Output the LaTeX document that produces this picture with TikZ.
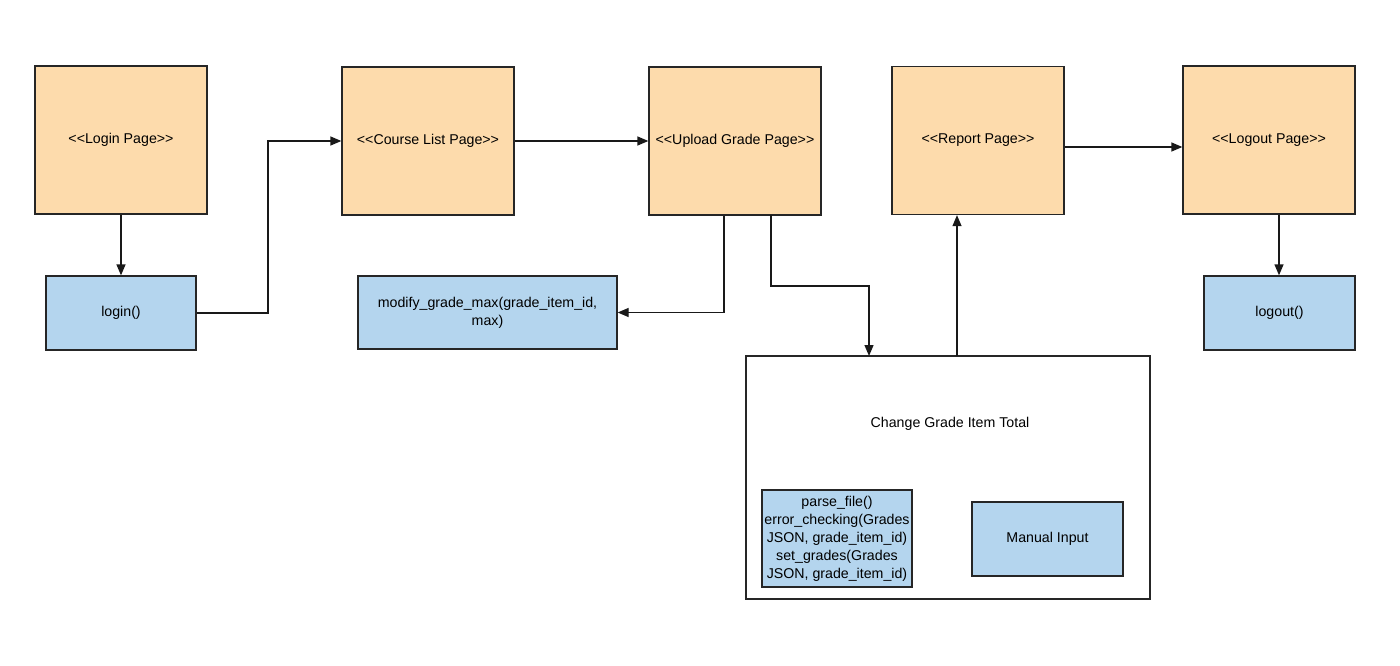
\documentclass[tikz,border=0pt]{standalone}
\usepackage{fontspec}
\setmainfont{Liberation Sans}
\usetikzlibrary{arrows.meta}
\definecolor{pageorange}{HTML}{FDDBAC}
\definecolor{funcblue}{HTML}{B4D5EE}
\newcommand{\dlt}{<\kern0pt<}
\newcommand{\dgt}{>\kern0pt>}
\begin{document}
\begin{tikzpicture}[x=1pt,y=-1pt,
  font=\fontsize{14.2}{18}\selectfont,
  pagebox/.style={draw=black!85, line width=1.3pt, fill=pageorange, minimum width=172pt, minimum height=148pt, inner sep=0pt, align=center},
  funcbox/.style={draw=black!85, line width=1.3pt, fill=funcblue, inner sep=0pt, align=center},
  conn/.style={draw=black!90, line width=1.3pt, -{Triangle[length=11pt,width=9pt]}}
]
\useasboundingbox (0,0) rectangle (1400,666);
% pages
\node[pagebox] (login) at (121,140) {\dlt Login Page\dgt};
\node[pagebox] (course) at (428,141) {\dlt Course List Page\dgt};
\node[pagebox] (upload) at (735,141) {\dlt Upload Grade Page\dgt};
\node[pagebox] (report) at (978,140.5) {\dlt Report Page\dgt};
\node[pagebox] (logout) at (1269,140) {\dlt Logout Page\dgt};
% functions
\node[funcbox, minimum width=150pt, minimum height=74pt] (loginf) at (121,313) {login()};
\node[funcbox, minimum width=259pt, minimum height=73pt] (modify) at (487.5,312.5) {modify\_grade\_max(grade\_item\_id,\\max)};
\node[funcbox, minimum width=151pt, minimum height=74pt] (logoutf) at (1279.5,313) {logout()};
% container
\node[draw=black!85, line width=1.3pt, fill=white, minimum width=404pt, minimum height=243pt, inner sep=0pt] (change) at (948,477.5) {};
\node[inner sep=0pt] (changelabel) at (950,424) {Change Grade Item Total};
\node[funcbox, minimum width=150pt, minimum height=97pt] (parse) at (837,538.5) {parse\_file()\\error\_checking(Grades\\JSON, grade\_item\_id)\\set\_grades(Grades\\JSON, grade\_item\_id)};
\node[funcbox, minimum width=151pt, minimum height=74pt] (manual) at (1047.5,539) {Manual Input};
% connectors
\draw[conn] (login.south) -- (loginf.north);
\draw[conn] (loginf.east) -- (268,313) |- (course.west);
\draw[conn] (course.east) -- (upload.west);
\draw[conn] (upload.south -| 724,0) |- (modify.east);
\coordinate (upr) at (771,215);
\coordinate (chtop) at (869,356);
\draw[conn] (upr) |- (820,286) -| (chtop);
\coordinate (chup) at (957,356);
\draw[conn] (chup) -- (report.south -| chup);
\draw[conn] (report.east |- 0,147) -- (logout.west |- 0,147);
\draw[conn] (logout.south -| 1279,0) -- (logoutf.north -| 1279,0);
\end{tikzpicture}
\end{document}
